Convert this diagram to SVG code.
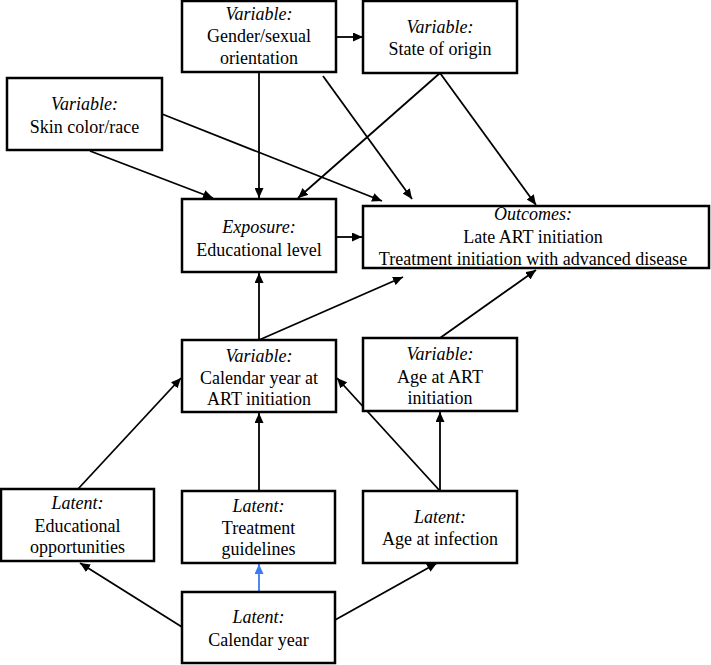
<svg xmlns="http://www.w3.org/2000/svg" width="711" height="665" viewBox="0 0 711 665">
<defs>
<marker id="ah" markerUnits="userSpaceOnUse" markerWidth="11" markerHeight="9" refX="10" refY="4.5" orient="auto"><path d="M0,0 L10,4.5 L0,9 z" fill="#000"/></marker>
<marker id="ahb" markerUnits="userSpaceOnUse" markerWidth="11" markerHeight="9" refX="10" refY="4.5" orient="auto"><path d="M0,0 L10,4.5 L0,9 z" fill="#3b7cf2"/></marker>
</defs>
<style>
rect.box{fill:#fff;stroke:#000;stroke-width:2.5}
text{font-family:'Liberation Serif',serif;font-size:18px;fill:#000;text-anchor:middle}
.it{font-style:italic}
#connectors line{stroke:#000;stroke-width:1.8;marker-end:url(#ah)}
#connectors line.blue{stroke:#3b7cf2;marker-end:url(#ahb)}
</style>
<rect width="711" height="665" fill="#fff"/>
<g id="connectors">
<line x1="336" y1="37" x2="363" y2="37"/>
<line x1="259" y1="72" x2="259" y2="198"/>
<line x1="323" y1="76" x2="412" y2="199"/>
<line x1="440" y1="73" x2="298" y2="198"/>
<line x1="440" y1="73" x2="536" y2="205"/>
<line x1="162" y1="114" x2="382" y2="201"/>
<line x1="90" y1="151" x2="213" y2="198"/>
<line x1="336" y1="237" x2="362" y2="237"/>
<line x1="259" y1="340" x2="259" y2="273"/>
<line x1="259" y1="340" x2="403" y2="277"/>
<line x1="440" y1="338" x2="536" y2="270"/>
<line x1="78" y1="489" x2="181" y2="378"/>
<line x1="259" y1="491" x2="259" y2="413"/>
<line x1="440" y1="491" x2="337" y2="378"/>
<line x1="440" y1="491" x2="440" y2="412"/>
<line x1="182" y1="627" x2="80" y2="563"/>
<line class="blue" x1="259" y1="592" x2="259" y2="564"/>
<line x1="335" y1="620" x2="437" y2="563"/>
</g>
<g font-family="Liberation Serif, serif">
<g id="gender"><rect class="box" x="182" y="1" width="154" height="71"/><text x="259" y="20"><tspan class="it">Variable:</tspan><tspan x="259" y="42">Gender/sexual</tspan><tspan x="259" y="64">orientation</tspan></text></g>
<g id="state"><rect class="box" x="363" y="1" width="154" height="72"/><text x="440" y="33"><tspan class="it">Variable:</tspan><tspan x="440" y="55">State of origin</tspan></text></g>
<g id="skin"><rect class="box" x="7" y="78" width="155" height="72"/><text x="84.5" y="110"><tspan class="it">Variable:</tspan><tspan x="84.5" y="133">Skin color/race</tspan></text></g>
<g id="exposure"><rect class="box" x="182" y="199" width="154" height="73"/><text x="259" y="233"><tspan class="it">Exposure:</tspan><tspan x="259" y="256">Educational level</tspan></text></g>
<g id="outcomes"><rect class="box" x="363" y="206" width="346" height="62"/><text x="533" y="220"><tspan class="it">Outcomes:</tspan><tspan x="533" y="243">Late ART initiation</tspan><tspan x="533" y="265">Treatment initiation with advanced disease</tspan></text></g>
<g id="calart"><rect class="box" x="182" y="340" width="154" height="72"/><text x="259" y="362"><tspan class="it">Variable:</tspan><tspan x="259" y="384">Calendar year at</tspan><tspan x="259" y="405">ART initiation</tspan></text></g>
<g id="ageart"><rect class="box" x="363" y="338" width="154" height="73"/><text x="440" y="360"><tspan class="it">Variable:</tspan><tspan x="440" y="383">Age at ART</tspan><tspan x="440" y="404">initiation</tspan></text></g>
<g id="edopp"><rect class="box" x="1" y="489" width="153" height="72"/><text x="77.5" y="509"><tspan class="it">Latent:</tspan><tspan x="77.5" y="532">Educational</tspan><tspan x="77.5" y="553">opportunities</tspan></text></g>
<g id="treatg"><rect class="box" x="182" y="491" width="153" height="72"/><text x="258.5" y="512"><tspan class="it">Latent:</tspan><tspan x="258.5" y="534">Treatment</tspan><tspan x="258.5" y="555">guidelines</tspan></text></g>
<g id="ageinf"><rect class="box" x="363" y="491" width="154" height="72"/><text x="440" y="523"><tspan class="it">Latent:</tspan><tspan x="440" y="545">Age at infection</tspan></text></g>
<g id="calyear"><rect class="box" x="182" y="592" width="153" height="71"/><text x="258.5" y="623"><tspan class="it">Latent:</tspan><tspan x="258.5" y="646">Calendar year</tspan></text></g>
</g>
</svg>
